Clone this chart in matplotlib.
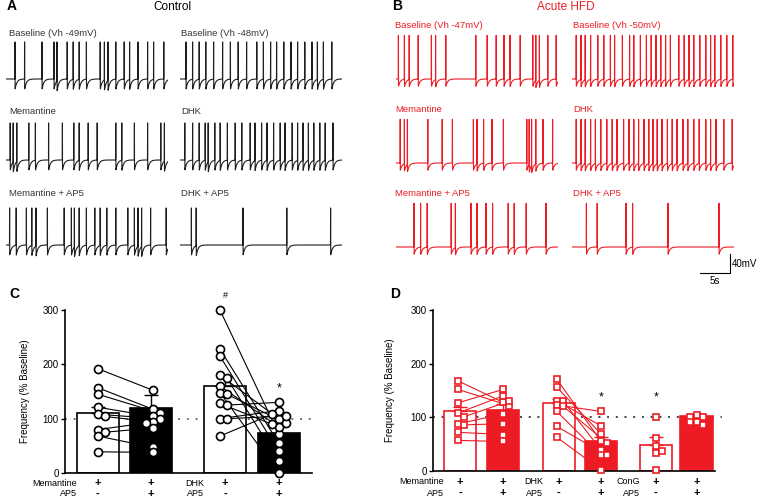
import numpy as np
import matplotlib
matplotlib.use("Agg")
import matplotlib.pyplot as plt
from matplotlib.transforms import blended_transform_factory

plt.rcParams['font.family'] = ['Liberation Sans', 'DejaVu Sans']

RED = '#ED1C24'
BLK = '#1e1e1e'

# ---- spike times (s), 27 s per sweep ----
ctl_base1 = [1.5, 3.1, 6.0, 8.0, 8.5, 10.2, 11.2, 12.2, 13.4, 15.7, 16.4, 17.0, 18.3, 19.7, 20.6, 22.0, 23.6, 24.6, 26.3]
ctl_base2 = [1.0, 2.1, 3.2, 4.3, 5.6, 7.1, 8.4, 9.7, 11.1, 12.8, 13.9, 15.1, 16.1, 17.3, 18.5, 19.6, 20.8, 22.0, 22.9, 23.9, 25.3]
ctl_mem = [0.7, 1.2, 1.8, 3.8, 4.9, 7.1, 9.4, 11.3, 12.2, 13.7, 15.2, 18.3, 19.3, 21.4, 23.6, 25.8, 26.4]
ctl_dhk = [0.8, 2.1, 3.2, 4.2, 4.7, 5.8, 6.7, 7.9, 9.2, 10.3, 11.7, 12.5, 13.6, 14.5, 15.6, 16.7, 17.5, 18.7, 19.6, 20.5, 21.4, 22.3, 23.3, 24.2, 25.5]
ctl_mem_ap5 = [0.6, 1.7, 3.4, 4.3, 5.0, 6.9, 9.7, 10.9, 11.4, 12.2, 13.4, 14.8, 15.7, 16.8, 18.3, 20.3, 21.4, 22.0, 22.6, 24.1, 26.7]
ctl_dhk_ap5 = [1.9, 2.7, 10.5, 17.8, 25.1]

hfd_base1 = [0.4, 1.4, 2.2, 3.7, 5.9, 6.6, 8.3, 13.3, 15.2, 16.7, 18.0, 19.0, 20.7, 22.8, 23.3, 23.9, 25.3, 26.7]
hfd_base2 = [0.7, 1.5, 2.2, 3.1, 4.3, 5.3, 6.4, 7.1, 8.4, 9.6, 10.3, 11.4, 12.4, 13.2, 14.0, 14.8, 15.6, 16.4, 17.8, 18.7, 19.5, 20.3, 21.3, 22.3, 23.1, 23.8, 24.8, 25.8, 26.8]
hfd_mem = [0.7, 1.4, 1.9, 5.3, 7.7, 9.4, 12.9, 13.5, 14.6, 16.0, 17.9, 21.8, 22.2, 22.6, 23.3, 24.5, 26.1]
hfd_dhk = [0.7, 1.5, 2.2, 3.1, 3.9, 4.8, 5.8, 6.7, 7.5, 8.6, 9.5, 10.3, 11.1, 12.0, 12.8, 13.5, 14.2, 15.0, 15.9, 16.7, 17.5, 18.5, 19.3, 20.3, 21.2, 22.3, 23.1, 24.0, 25.3, 26.7]
hfd_mem_ap5 = [3.0, 4.1, 5.2, 9.2, 9.9, 12.5, 13.5, 15.0, 16.1, 18.7, 19.7, 21.7, 25.0]
hfd_dhk_ap5 = [2.4, 4.2, 9.0, 10.1, 16.0, 24.5]

ctl_labels = ["Baseline (Vh -49mV)", "Baseline (Vh -48mV)", "Memantine", "DHK", "Memantine + AP5", "DHK + AP5"]
hfd_labels = ["Baseline (Vh -47mV)", "Baseline (Vh -50mV)", "Memantine", "DHK", "Memantine + AP5", "DHK + AP5"]

# ---- panel C (control), frequency % baseline ----
c_means = [110, 119, 161, 74]
c_sem = [12, 25, 15, 10]
c_mem = [192, 157, 145, 121, 108, 104, 80, 75, 68, 39]
c_mem_ap5 = [152, 117, 110, 104, 100, 94, 92, 83, 47, 38]
c_dhk = [300, 228, 215, 180, 175, 160, 148, 145, 128, 125, 100, 100, 68]
c_dhk_ap5 = [72, 55, 40, 100, 22, 85, 0, 92, 90, 130, 115, 105, 108]

# ---- panel D (acute HFD) ----
d_means = [111, 114, 127, 56, 48, 103]
d_sem = [9, 10, 8, 8, 16, 3]
d_mem = [168, 152, 127, 108, 101, 88, 86, 72, 57]
d_mem_ap5 = [128, 122, 152, 140, 130, 106, 88, 68, 55]
d_dhk = [171, 156, 131, 131, 123, 121, 111, 83, 63]
d_dhk_ap5 = [55, 69, 84, 39, 111, 52, 29, 29, 2]
d_cong = [101, 61, 47, 33, 38, 2]
d_cong_ap5 = [104, 101, 101, 92, 86, 92]

W, H = 758, 497
fig = plt.figure(figsize=(W / 100, H / 100), dpi=100)


def ax_px(x0, y0, x1, y1):
    return fig.add_axes([x0 / W, 1 - y1 / H, (x1 - x0) / W, (y1 - y0) / H])


def ftext(x, y, s, **kw):
    fig.text(x / W, 1 - y / H, s, **kw)


def spike_trace(spikes, amp, under, dur=27.0, dt=0.02, tau=0.3):
    t = np.arange(0, dur, dt)
    v = np.zeros_like(t)
    for s in spikes:
        i = int(round(s / dt))
        post = t > t[i] + dt / 2
        v[post] -= under * np.exp(-(t[post] - t[i]) / tau)
    for s in spikes:
        v[int(round(s / dt))] = amp
    return t, v


# mV -> px : 40 mV = 19 px ; s -> px : 5 s = 30 px
MV = 19 / 40.0


def trace_axes(x0, base, spikes, color, amp, under):
    ax = ax_px(x0, base - 100 * MV, x0 + 162, base + 40 * MV)
    t, v = spike_trace(spikes, amp, under)
    ax.plot(t, v, color=color, lw=0.8)
    ax.set_xlim(0, 27)
    ax.set_ylim(-40, 100)
    ax.axis('off')
    return ax


# panel A
ctl_rows = [(ctl_base1, ctl_base2), (ctl_mem, ctl_dhk), (ctl_mem_ap5, ctl_dhk_ap5)]
ctl_base = [79, 160, 245]
ctl_lab_y = [33, 112, 193]
for r, (left, right) in enumerate(ctl_rows):
    trace_axes(6, ctl_base[r], left, BLK, 78, 22)
    trace_axes(180, ctl_base[r], right, BLK, 78, 22)
    ftext(9, ctl_lab_y[r], ctl_labels[2 * r], fontsize=6.8, color='#333333', va='center')
    ftext(181, ctl_lab_y[r], ctl_labels[2 * r + 1], fontsize=6.8, color='#333333', va='center')

# panel B
hfd_rows = [(hfd_base1, hfd_base2), (hfd_mem, hfd_dhk), (hfd_mem_ap5, hfd_dhk_ap5)]
hfd_base = [79, 163, 247]
hfd_lab_y = [25, 110, 193]
for r, (left, right) in enumerate(hfd_rows):
    trace_axes(396, hfd_base[r], left, RED, 92, 16)
    axr = trace_axes(572, hfd_base[r], right, RED, 92, 16)
    ftext(395, hfd_lab_y[r], hfd_labels[2 * r], fontsize=6.8, color=RED, va='center')
    ftext(573, hfd_lab_y[r], hfd_labels[2 * r + 1], fontsize=6.8, color=RED, va='center')

# scale bar on the last red trace
axr.plot([21.3, 26.3, 26.3], [-55, -55, -15], color='black', lw=0.8, clip_on=False)
axr.text(26.6, -35, "40mV", fontsize=7, va='center', ha='left')
axr.text(23.8, -62, "5s", fontsize=7, va='top', ha='center')

ftext(7, 6, "A", fontsize=10, fontweight='heavy', va='center')
ftext(172, 7, "Control", fontsize=8.5, ha='center', va='center')
ftext(392, 6, "B", fontsize=10, fontweight='heavy', va='center')
ftext(566, 7, "Acute HFD", fontsize=8.5, ha='center', va='center', color=RED)
ftext(9, 294, "C", fontsize=10, fontweight='heavy', va='center')
ftext(390, 294, "D", fontsize=10, fontweight='heavy', va='center')


def swarm(vals, dy, step):
    placed, offs = [], []
    for v in vals:
        c = 0.0
        for k in [0, 1, -1, 2, -2, 3, -3]:
            c = k * step
            if all(abs(v - pv) >= dy or abs(c - pc) >= step * 0.99 for pv, pc in placed):
                break
        placed.append((v, c))
        offs.append(c)
    return np.array(offs)


def bar_panel(ax, pos, width, means, sem, fills, color, ylabel_x):
    ax.axhline(100, color='#444444', lw=1.1, ls=(0, (1.2, 4.5)), zorder=1)
    ax.bar(pos, means, width, color=fills, edgecolor=color, lw=1.2, zorder=2)
    ax.errorbar(pos, means, yerr=[np.zeros(len(means)), sem], fmt='none',
                ecolor=color, elinewidth=1, capsize=5, capthick=1, zorder=2.5)
    ax.set_ylim(0, 300)
    ax.set_yticks([0, 100, 200, 300])
    ax.set_xticks([])
    ax.tick_params(axis='y', length=3, width=1, pad=1.5, labelsize=7)
    for s in ['top', 'right']:
        ax.spines[s].set_visible(False)
    for s in ['left', 'bottom']:
        ax.spines[s].set_linewidth(1.2)
    ax.set_ylabel("Frequency (% Baseline)", fontsize=7)
    ax.yaxis.set_label_coords(ylabel_x, 0.5)


def pairs(ax, x0, x1, before, after, color, marker, ms, dy, step):
    xb = x0 + swarm(before, dy, step)
    xa = x1 + swarm(after, dy, step)
    for a, b, va, vb in zip(xb, xa, before, after):
        ax.plot([a, b], [va, vb], color=color, lw=0.8, zorder=3)
    for xs, vs in [(xb, before), (xa, after)]:
        ax.plot(xs, vs, ls='none', marker=marker, ms=ms, mfc='white', mec=color,
                mew=1.2, zorder=4, clip_on=False)


def x_labels(ax, pos, width, groups, row1, row2, y1, y2):
    tr = blended_transform_factory(ax.transData, fig.transFigure)
    for i, (g1, g2) in groups:
        xl = pos[i] - width / 2
        ax.text(xl, 1 - y1 / H, g1, transform=tr, ha='right', va='center', fontsize=6.5)
        ax.text(xl, 1 - y2 / H, g2, transform=tr, ha='right', va='center', fontsize=6.5)
    for p, a, b in zip(pos, row1, row2):
        ax.text(p, 1 - y1 / H, a, transform=tr, ha='center', va='center', fontsize=8, fontweight='bold')
        ax.text(p, 1 - y2 / H, b, transform=tr, ha='center', va='center', fontsize=8, fontweight='bold')


# panel C
axc = ax_px(65, 310, 312, 473)
c_pos = np.array([0, 1, 2.41, 3.42])
bar_panel(axc, c_pos, 0.79, c_means, c_sem, ['white', 'black', 'white', 'black'], 'black', -0.14)
axc.set_xlim(-0.62, 4.05)
pairs(axc, c_pos[0], c_pos[1] + 0.05, c_mem, c_mem_ap5, 'black', 'o', 5.8, 9, 0.13)
pairs(axc, c_pos[2] - 0.1, c_pos[3], c_dhk, c_dhk_ap5, 'black', 'o', 5.8, 9, 0.13)
axc.text(c_pos[2], 327, "#", ha='center', va='center', fontsize=6.5)
axc.text(c_pos[3], 155, "*", ha='center', va='center', fontsize=9)
x_labels(axc, c_pos, 0.79, [(0, ("Memantine", "AP5")), (2, ("DHK", "AP5"))],
         ['+', '+', '+', '+'], ['-', '+', '-', '+'], 483, 493.5)

# panel D
axd = ax_px(433, 310, 715, 471)
d_pos = np.array([0, 1, 2.3, 3.28, 4.55, 5.5])
bar_panel(axd, d_pos, 0.75, d_means, d_sem, ['white', RED, 'white', RED, 'white', RED], RED, -0.135)
axd.set_xlim(-0.63, 5.93)
axd.spines['left'].set_color('black')
axd.spines['bottom'].set_color('black')
pairs(axd, d_pos[0] - 0.05, d_pos[1], d_mem, d_mem_ap5, RED, 's', 4.5, 8, 0.14)
pairs(axd, d_pos[2] - 0.05, d_pos[3], d_dhk, d_dhk_ap5, RED, 's', 4.5, 8, 0.14)
for p, vals in [(d_pos[4], d_cong), (d_pos[5], d_cong_ap5)]:
    axd.plot(p + swarm(vals, 8, 0.14), vals, ls='none', marker='s', ms=4.5, mfc='white',
             mec=RED, mew=1.2, zorder=4, clip_on=False)
axd.plot([-0.63, 6.1], [100, 100], color='#444444', lw=1.1, ls=(0, (1.2, 4.5)), zorder=1, clip_on=False)
axd.text(d_pos[3], 138, "*", ha='center', va='center', fontsize=9)
axd.text(d_pos[4], 138, "*", ha='center', va='center', fontsize=9)
x_labels(axd, d_pos, 0.75, [(0, ("Memantine", "AP5")), (2, ("DHK", "AP5")), (4, ("ConG", "AP5"))],
         ['+'] * 6, ['-', '+', '-', '+', '-', '+'], 482, 493)

fig.savefig("out.png", dpi=100)
